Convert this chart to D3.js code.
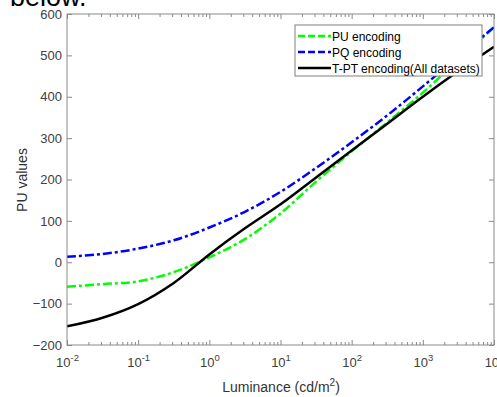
<!DOCTYPE html>
<html>
<head>
<meta charset="utf-8">
<script src="https://cdn.jsdelivr.net/npm/d3@7"></script>
<style>
  body { margin: 0; background: #fff; }
  svg { display: block; font-family: "Liberation Sans", Arial, sans-serif; }
</style>
</head>
<body>
<div id="chart"></div>
<script>
// log10 of luminance sample points
const logL = [-2, -1.5, -1, -0.5, 0, 0.5, 1, 1.5, 2, 2.5, 3, 3.5, 4];
const puValues = [-59, -53, -46, -24, 12, 56, 118, 195, 268, 338, 410, 489, 568];
const pqValues = [13, 20, 33, 53, 84, 122, 170, 228, 290, 355, 425, 497, 568];
const tptValues = [-155, -134, -101, -50, 19, 82, 140, 205, 270, 335, 400, 462, 521];
const seriesNames = ['PU encoding', 'PQ encoding', 'T-PT encoding(All datasets)'];
const xTickExp = [-2, -1, 0, 1, 2, 3, 4];
const yTicks = [-200, -100, 0, 100, 200, 300, 400, 500, 600];

const chart = (() => {
    const W = 497, H = 397;
    const m = {left: 67, right: 494, top: 14, bottom: 345};
    let svg;

    const x = d3.scaleLog().domain([1e-2, 1e4]).range([m.left, m.right]);
    const y = d3.scaleLinear().domain([-200, 600]).range([m.bottom, m.top]);

    const styles = [
        {color: '#00ff00', dash: '9,3,3,3', width: 2.5},
        {color: '#0000ff', dash: '9,3,3,3', width: 2.5},
        {color: '#000000', dash: null, width: 2.5}
    ];

    const appendSVG = () => {
        svg = d3.select('#chart').append('svg')
          .attr('width', W)
          .attr('height', H);
        // bit of document text cut off above the figure
        const doc = svg.append('text')
          .attr('y', 6)
          .style('font-size', '27px')
          .attr('fill', '#000')
          .text('r below.');
        const probe = svg.append('text').style('font-size', '27px').text('r\u00a0');
        const w = probe.node().getComputedTextLength();
        probe.remove();
        doc.attr('x', 10 - w);
    };

    const drawAxes = () => {
        const minor = [];
        for (let e = -2; e < 4; e++) {
            for (let k = 2; k <= 9; k++) minor.push(k * Math.pow(10, e));
        }
        const majors = xTickExp.map(e => Math.pow(10, e));
        const axisColor = '#8a8a8a';

        svg.append('rect')
          .attr('x', m.left).attr('y', m.top)
          .attr('width', m.right - m.left).attr('height', m.bottom - m.top)
          .attr('fill', 'none').attr('stroke', axisColor).attr('stroke-width', 1);

        const addTicks = (axis, tr) => {
            const g = svg.append('g').attr('transform', tr).call(axis);
            g.select('.domain').remove();
            g.selectAll('line').attr('stroke', axisColor);
            return g;
        };

        addTicks(d3.axisBottom(x).tickValues(minor).tickSize(-3).tickFormat(''), `translate(0,${m.bottom})`);
        addTicks(d3.axisTop(x).tickValues(minor).tickSize(-3).tickFormat(''), `translate(0,${m.top})`);
        addTicks(d3.axisTop(x).tickValues(majors).tickSize(-5).tickFormat(''), `translate(0,${m.top})`);
        const xb = addTicks(d3.axisBottom(x).tickValues(majors).tickSize(-5).tickFormat(''), `translate(0,${m.bottom})`);

        xb.selectAll('.tick').each(function(d) {
            const t = d3.select(this).select('text')
              .attr('y', 22).attr('dy', null)
              .attr('fill', '#404040').attr('font-size', 13)
              .attr('font-family', '"Liberation Sans", Arial, sans-serif')
              .attr('text-anchor', 'middle');
            t.append('tspan').text('10');
            t.append('tspan').attr('dy', -6).attr('font-size', 9.5)
              .text(String(Math.round(Math.log10(d))));
        });

        addTicks(d3.axisRight(y).tickValues(yTicks).tickSize(-5).tickFormat(''), `translate(${m.right},0)`);
        const yl = addTicks(d3.axisLeft(y).tickValues(yTicks).tickSize(-5), `translate(${m.left},0)`);
        yl.selectAll('text')
          .attr('x', -5)
          .attr('fill', '#404040').attr('font-size', 13)
          .attr('font-family', '"Liberation Sans", Arial, sans-serif');

        const xl = svg.append('text')
          .attr('x', 281).attr('y', 392)
          .attr('text-anchor', 'middle')
          .attr('font-size', 14).attr('fill', '#333');
        xl.append('tspan').text('Luminance (cd/m');
        xl.append('tspan').attr('dy', -6).attr('font-size', 10).text('2');
        xl.append('tspan').attr('dy', 6).text(')');

        svg.append('text')
          .attr('transform', 'translate(27,180) rotate(-90)')
          .attr('text-anchor', 'middle')
          .attr('font-size', 14).attr('fill', '#333')
          .text('PU values');
    };

    const drawLines = () => {
        const all = [puValues, pqValues, tptValues];
        const line = d3.line()
          .x((d, i) => x(Math.pow(10, logL[i])))
          .y(d => y(d))
          .curve(d3.curveCatmullRom.alpha(0.5));

        svg.append('clipPath').attr('id', 'plotclip')
          .append('rect')
          .attr('x', m.left).attr('y', m.top)
          .attr('width', m.right - m.left).attr('height', m.bottom - m.top);

        svg.append('g').attr('clip-path', 'url(#plotclip)')
          .selectAll('path')
          .data(all)
          .enter()
          .append('path')
          .attr('d', line)
          .attr('fill', 'none')
          .attr('stroke', (d, i) => styles[i].color)
          .attr('stroke-width', (d, i) => styles[i].width)
          .attr('stroke-dasharray', (d, i) => styles[i].dash);
    };

    const drawLegend = () => {
        const lg = svg.append('g');
        lg.append('rect')
          .attr('x', 295).attr('y', 25)
          .attr('width', 187).attr('height', 51)
          .attr('fill', '#fff').attr('stroke', '#808080').attr('stroke-width', 1);

        const rows = lg.selectAll('g.row')
          .data(seriesNames)
          .enter()
          .append('g')
          .attr('class', 'row')
          .attr('transform', (d, i) => `translate(0,${36 + i * 16})`);

        rows.append('line')
          .attr('x1', 298).attr('x2', 331)
          .attr('stroke', (d, i) => styles[i].color)
          .attr('stroke-width', (d, i) => styles[i].width)
          .attr('stroke-dasharray', (d, i) => styles[i].dash ? '7,3' : null);

        rows.append('text')
          .attr('x', 332).attr('y', 4.5)
          .attr('font-size', 12).attr('fill', '#000')
          .text(d => d);
    };

    const draw = () => {
        appendSVG();
        drawLines();
        drawAxes();
        drawLegend();
    };

    return { draw };
})();

chart.draw();
</script>
</body>
</html>
